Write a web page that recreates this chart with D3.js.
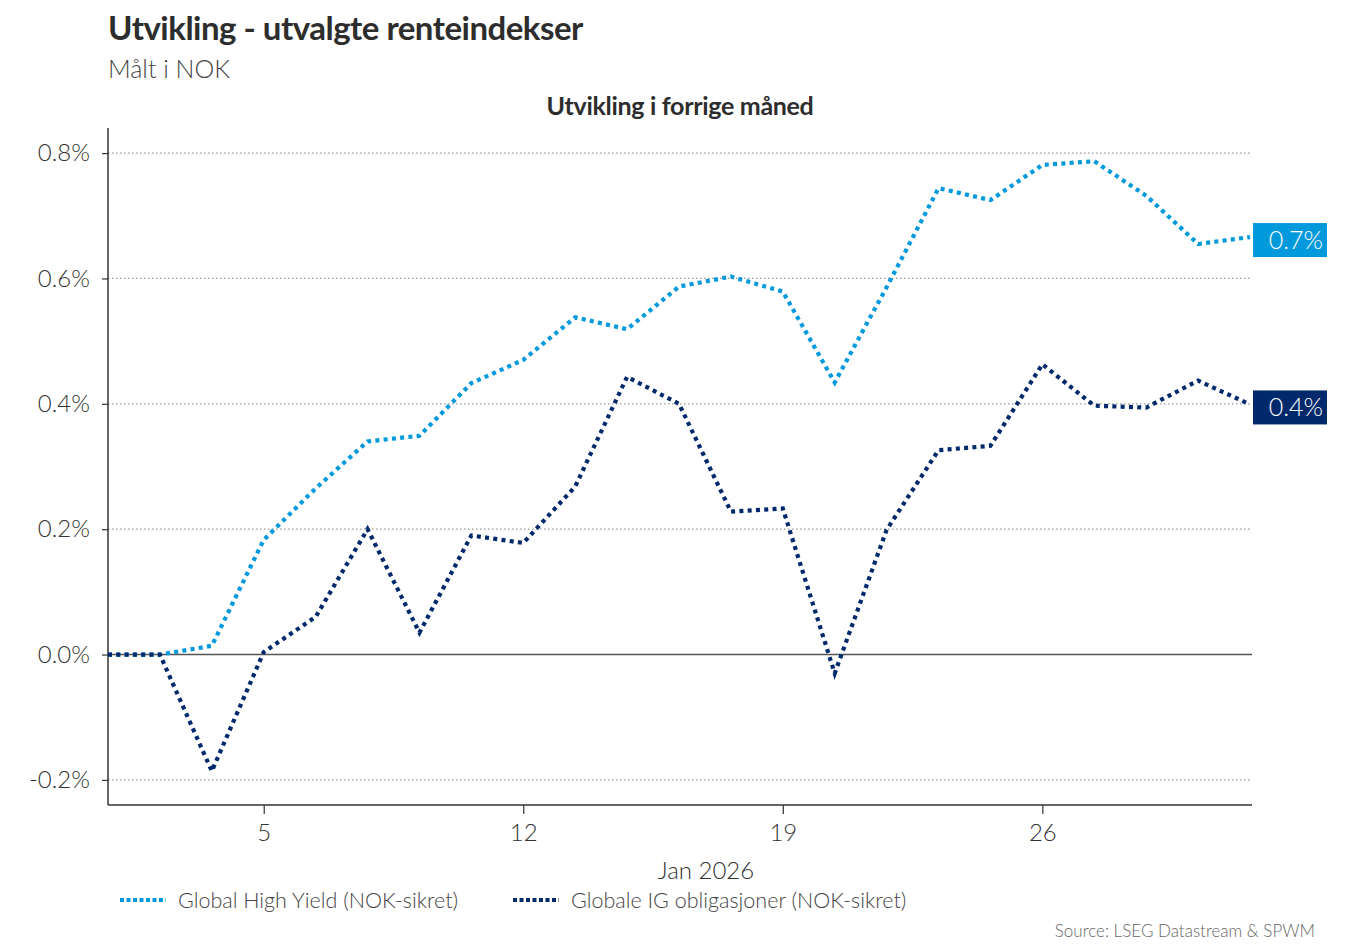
<!DOCTYPE html>
<html>
<head>
<meta charset="utf-8">
<script src="https://cdn.jsdelivr.net/npm/d3@7"></script>
<style>
  body { margin: 0; background: #fff; }
  svg text { font-family: Lato, "Open Sans", sans-serif; }
</style>
</head>
<body>
<svg id="chart" width="1358" height="944"></svg>
<script>
// business days, 31 Dec 2025 - 30 Jan 2026
const days = ['2025-12-31', '2026-01-01', '2026-01-02',
  '2026-01-05', '2026-01-06', '2026-01-07', '2026-01-08', '2026-01-09',
  '2026-01-12', '2026-01-13', '2026-01-14', '2026-01-15', '2026-01-16',
  '2026-01-19', '2026-01-20', '2026-01-21', '2026-01-22', '2026-01-23',
  '2026-01-26', '2026-01-27', '2026-01-28', '2026-01-29', '2026-01-30'];

// cumulative return, percent
const highYield = [0, 0, 0.014, 0.183, 0.265, 0.340, 0.349, 0.433,
  0.470, 0.538, 0.519, 0.587, 0.603, 0.579, 0.434, 0.586, 0.744, 0.725,
  0.781, 0.787, 0.732, 0.655, 0.666];
const investmentGrade = [0, 0, -0.186, 0.004, 0.060, 0.200, 0.035, 0.190,
  0.178, 0.268, 0.443, 0.400, 0.228, 0.233, -0.030, 0.199, 0.326, 0.333,
  0.463, 0.397, 0.394, 0.437, 0.399];

const seriesNames = ['Global High Yield (NOK-sikret)', 'Globale IG obligasjoner (NOK-sikret)'];
const seriesColors = ['#0099dc', '#00296b'];
const yTicks = [-0.2, 0, 0.2, 0.4, 0.6, 0.8];
const xTickDays = ['2026-01-05', '2026-01-12', '2026-01-19', '2026-01-26'];

const svg = d3.select('#chart');
const plotLeft = 108, plotRight = 1250, plotTop = 128, plotBottom = 805;

const x = d3.scalePoint().domain(days).range([plotLeft, plotRight]);
const y = d3.scaleLinear().domain([-0.24, 0.84]).range([plotBottom, plotTop]);
// plain hyphen for negatives, like the original
const pct = d => d.toFixed(1) + '%';

// titles
svg.append('text').attr('x', 108).attr('y', 40)
  .attr('font-size', 33).attr('font-weight', 700).attr('fill', '#2d2d2d')
  .attr('letter-spacing', -0.5)
  .text('Utvikling - utvalgte renteindekser');
svg.append('text').attr('x', 108).attr('y', 78)
  .attr('font-size', 25).attr('font-weight', 300).attr('fill', '#444')
  .text('Målt i NOK');
svg.append('text').attr('x', 680).attr('y', 115).attr('text-anchor', 'middle')
  .attr('font-size', 25).attr('font-weight', 700).attr('fill', '#2d2d2d')
  .attr('letter-spacing', -0.3)
  .text('Utvikling i forrige måned');

// grid
svg.append('g').selectAll('line')
  .data(yTicks.filter(d => d !== 0))
  .enter().append('line')
  .attr('x1', plotLeft).attr('x2', plotRight)
  .attr('y1', d => y(d)).attr('y2', d => y(d))
  .attr('stroke', '#999').attr('stroke-width', 1.2)
  .attr('stroke-dasharray', '1.5,2.5');
svg.append('line')
  .attr('x1', plotLeft).attr('x2', plotRight + 2)
  .attr('y1', y(0)).attr('y2', y(0))
  .attr('stroke', '#555').attr('stroke-width', 1.5);

// axes
const yAxis = svg.append('g').attr('transform', 'translate(' + plotLeft + ',0)')
  .call(d3.axisLeft(y).tickValues(yTicks).tickFormat(pct).tickSize(6).tickPadding(12));
const xAxis = svg.append('g').attr('transform', 'translate(0,' + plotBottom + ')')
  .call(d3.axisBottom(x).tickValues(xTickDays)
    .tickFormat(d => +d.slice(8)).tickSize(9).tickPadding(10));
[yAxis, xAxis].forEach(function (a) {
  a.select('.domain').attr('stroke', '#333').attr('stroke-width', 1.5);
  a.selectAll('.tick line').attr('stroke', '#333').attr('stroke-width', 1.2);
  a.selectAll('.tick text').attr('font-family', 'Lato').attr('font-size', 24)
    .attr('font-weight', 300).attr('fill', '#333');
});
yAxis.select('.domain').attr('d', 'M0,' + plotTop + 'V' + plotBottom);
xAxis.select('.domain').attr('d', 'M' + plotLeft + ',0H' + (plotRight + 2));

svg.append('text').attr('x', 706).attr('y', 879).attr('text-anchor', 'middle')
  .attr('font-size', 24).attr('font-weight', 300).attr('fill', '#333')
  .text('Jan 2026');

// lines
const line = d3.line().x((d, i) => x(days[i])).y(d => y(d));
[highYield, investmentGrade].forEach(function (vals, k) {
  svg.append('path').datum(vals)
    .attr('d', line)
    .attr('fill', 'none')
    .attr('stroke', seriesColors[k])
    .attr('stroke-width', 4.2)
    .attr('stroke-dasharray', '4,4.3');

  const last = vals[vals.length - 1];
  const g = svg.append('g').attr('transform', 'translate(1253,' + (y(last) + 3) + ')');
  g.append('rect').attr('x', 0).attr('y', -17).attr('width', 74).attr('height', 34)
    .attr('fill', seriesColors[k]);
  g.append('text').attr('x', 70).attr('y', 9).attr('text-anchor', 'end')
    .attr('font-size', 25).attr('font-weight', 300).attr('fill', '#fff')
    .text(d3.format('.1f')(last) + '%');
});

// legend
const legendX = [120, 513];
seriesNames.forEach(function (name, k) {
  svg.append('line')
    .attr('x1', legendX[k]).attr('x2', legendX[k] + 46)
    .attr('y1', 900).attr('y2', 900)
    .attr('stroke', seriesColors[k]).attr('stroke-width', 4)
    .attr('stroke-dasharray', '4,2.5');
  svg.append('text').attr('x', legendX[k] + 58).attr('y', 908)
    .attr('font-size', 21.5).attr('font-weight', 300).attr('fill', '#444')
    .text(name);
});

svg.append('text').attr('x', 1315).attr('y', 937).attr('text-anchor', 'end')
  .attr('font-size', 17).attr('font-weight', 300).attr('fill', '#666')
  .text('Source: LSEG Datastream & SPWM');
</script>
</body>
</html>
